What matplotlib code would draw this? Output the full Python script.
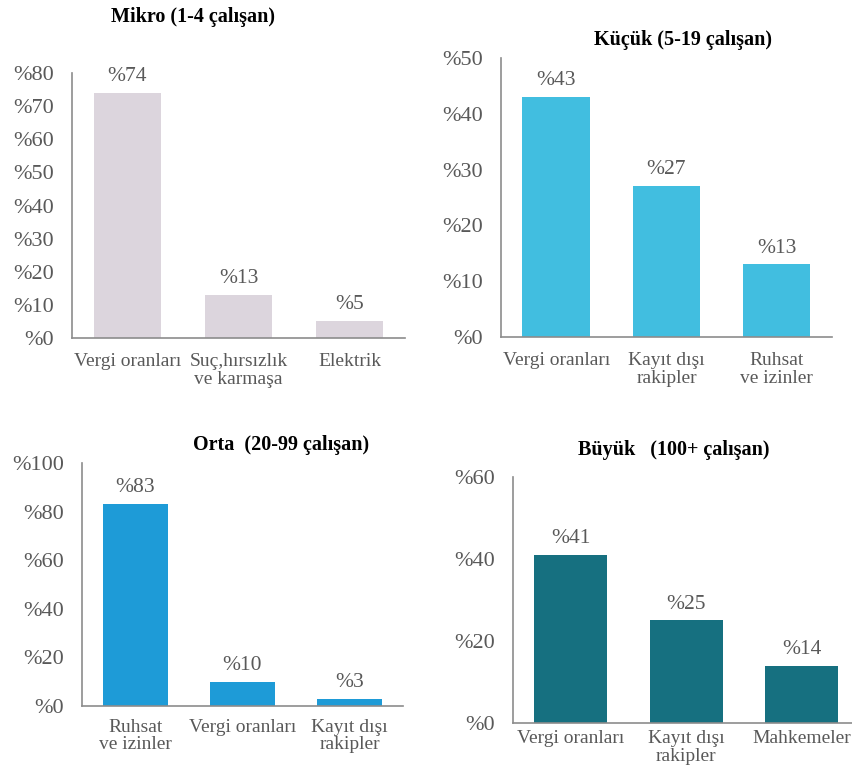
import matplotlib
matplotlib.use('Agg')
import matplotlib.pyplot as plt

plt.rcParams['font.family'] = ['Liberation Serif', 'DejaVu Serif']

# Veriler: her işletme büyüklüğü için en büyük üç engel
mikro_cats = ['Vergi oranları', 'Suç,hırsızlık\nve karmaşa', 'Elektrik']
mikro_vals = [74, 13, 5]
mikro_ticks = [0, 10, 20, 30, 40, 50, 60, 70, 80]

kucuk_cats = ['Vergi oranları', 'Kayıt dışı\nrakipler', 'Ruhsat\nve izinler']
kucuk_vals = [43, 27, 13]
kucuk_ticks = [0, 10, 20, 30, 40, 50]

orta_cats = ['Ruhsat\nve izinler', 'Vergi oranları', 'Kayıt dışı\nrakipler']
orta_vals = [83, 10, 3]
orta_ticks = [0, 20, 40, 60, 80, 100]

buyuk_cats = ['Vergi oranları', 'Kayıt dışı\nrakipler', 'Mahkemeler']
buyuk_vals = [41, 25, 14]
buyuk_ticks = [0, 20, 40, 60]

GREY = '#595959'
AXIS = '#8c8c8c'

fig = plt.figure(figsize=(8.53, 7.71), dpi=100)


def panel(rect, cats, vals, ticks, color, title, title_xy, width=0.61, xpad=11):
    ax = fig.add_axes(rect)
    x = range(len(vals))
    ax.bar(x, vals, width=width, color=color)
    ax.set_xlim(-0.5, len(vals) - 0.5)
    ax.set_ylim(0, ticks[-1])
    ax.set_yticks(ticks)
    ax.set_yticklabels([f'%{t}' for t in ticks], fontsize=16, color=GREY)
    ax.set_xticks(list(x))
    ax.set_xticklabels(cats, fontsize=14, color=GREY, linespacing=1.05)
    ax.tick_params(axis='y', length=0, pad=13)
    ax.tick_params(axis='x', length=0, pad=xpad)
    for s in ['top', 'right']:
        ax.spines[s].set_visible(False)
    for s in ['left', 'bottom']:
        ax.spines[s].set_color(AXIS)
        ax.spines[s].set_linewidth(1.2)
    for i, v in enumerate(vals):
        ax.annotate(f'%{v}', (i, v), xytext=(0, 5), textcoords='offset points',
                    ha='center', va='bottom', fontsize=15.5, color=GREY)
    fig.text(title_xy[0], title_xy[1], title, ha='center', va='center',
             fontsize=14.5, fontweight='bold', color='black')
    return ax


panel([0.0844, 0.5616, 0.3904, 0.3437], mikro_cats, mikro_vals, mikro_ticks,
      '#dcd5dd', 'Mikro (1-4 çalışan)', (0.2263, 0.978))
panel([0.5873, 0.5629, 0.388, 0.3619], kucuk_cats, kucuk_vals, kucuk_ticks,
      '#41bee0', 'Küçük (5-19 çalışan)', (0.8007, 0.948))
panel([0.0961, 0.0843, 0.3763, 0.3152], orta_cats, orta_vals, orta_ticks,
      '#1e9bd7', 'Orta  (20-99 çalışan)', (0.329, 0.4228), xpad=9)
panel([0.6014, 0.0623, 0.4062, 0.319], buyuk_cats, buyuk_vals, buyuk_ticks,
      '#167080', 'Büyük   (100+ çalışan)', (0.790, 0.4163), width=0.63, xpad=5)

fig.savefig('out.png', dpi=100)
